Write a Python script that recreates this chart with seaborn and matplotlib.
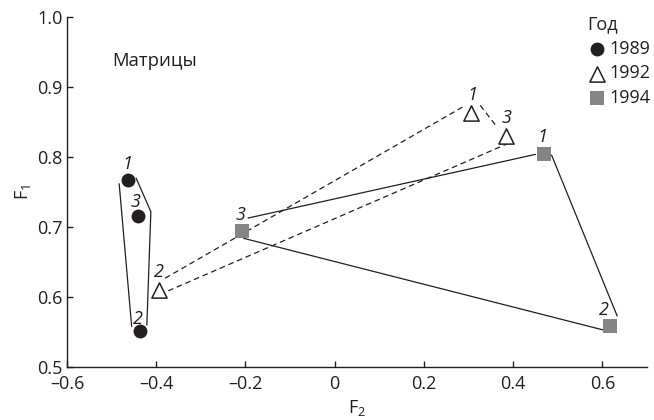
import matplotlib
matplotlib.use("Agg")
import matplotlib.pyplot as plt
import seaborn as sns
import pandas as pd

# данные: координаты матриц по годам (F2, F1)
years = ["1989", "1992", "1994"]
point_ids = {
    "1989": ["1", "3", "2"],
    "1992": ["1", "3", "2"],
    "1994": ["1", "3", "2"],
}
f2_values = {
    "1989": [-0.464, -0.440, -0.436],
    "1992": [0.306, 0.383, -0.394],
    "1994": [0.468, -0.208, 0.618],
}
f1_values = {
    "1989": [0.768, 0.716, 0.551],
    "1992": [0.863, 0.830, 0.610],
    "1994": [0.804, 0.695, 0.559],
}

# контуры групп (отрезки, в единицах осей)
outline_f2 = {
    "1989": [[-0.483, -0.455], [-0.445, -0.412, -0.421]],
    "1992": [[-0.380, 0.293], [0.326, 0.364], [0.390, -0.373]],
    "1994": [[-0.194, 0.450], [0.486, 0.633], [0.602, -0.204]],
}
outline_f1 = {
    "1989": [[0.762, 0.558], [0.770, 0.722, 0.560]],
    "1992": [[0.627, 0.874], [0.874, 0.843], [0.820, 0.609]],
    "1994": [[0.713, 0.804], [0.803, 0.573], [0.553, 0.684]],
}

dark = "#231f20"
grey = "#858585"

sns.set_style("ticks")
plt.rcParams["font.family"] = ["Open Sans", "DejaVu Sans"]
plt.rcParams["mathtext.default"] = "regular"

fig = plt.figure(figsize=(6.54, 4.20), dpi=100)
ax = fig.add_axes([0.1024, 0.126, 0.887, 0.833])

line_styles = {"1989": "-", "1992": (0, (4.5, 3)), "1994": "-"}
for year in years:
    for xs, ys in zip(outline_f2[year], outline_f1[year]):
        ax.plot(xs, ys, color=dark, lw=0.9, linestyle=line_styles[year], zorder=1)

marker_opts = {
    "1989": dict(marker="o", s=100, color=dark, edgecolor=dark, linewidth=0),
    "1992": dict(marker="^", s=120, color="white", edgecolor=dark, linewidth=1.1),
    "1994": dict(marker="s", s=90, color=grey, edgecolor=grey, linewidth=0),
}
for year in years:
    df = pd.DataFrame({"F2": f2_values[year], "F1": f1_values[year]})
    sns.scatterplot(data=df, x="F2", y="F1", ax=ax, label=year, zorder=3,
                    **marker_opts[year])

# подписи точек (смещения в пунктах)
label_offsets = {
    "1989": [(0, 11.5), (-2, 10), (-1.5, 9)],
    "1992": [(0.5, 13), (0.5, 13), (0, 13)],
    "1994": [(-1, 12.5), (-1, 11.5), (-5, 11.5)],
}
for year in years:
    for pid, xv, yv, off in zip(point_ids[year], f2_values[year], f1_values[year],
                                label_offsets[year]):
        ax.annotate(pid, (xv, yv), xytext=off, textcoords="offset points",
                    ha="center", va="center", fontsize=13, style="italic",
                    color=dark)

ax.text(-0.499, 0.937, "Матрицы", fontsize=13.3, color=dark, ha="left", va="center")

ax.set_xlim(-0.6, 0.7)
ax.set_ylim(0.5, 1.0)
ax.set_xticks([-0.6, -0.4, -0.2, 0, 0.2, 0.4, 0.6])
ax.set_xticklabels(["\u20130.6", "\u20130.4", "\u20130.2", "0", "0.2", "0.4", "0.6"])
ax.set_yticks([0.5, 0.6, 0.7, 0.8, 0.9, 1.0])
ax.set_yticklabels(["0.5", "0.6", "0.7", "0.8", "0.9", "1.0"])
ax.tick_params(direction="in", length=4, width=1, labelsize=13, colors=dark,
               pad=3)
ax.tick_params(axis="x", pad=6)
for side in ["top", "right"]:
    ax.spines[side].set_visible(False)
for side in ["left", "bottom"]:
    ax.spines[side].set_color(dark)
    ax.spines[side].set_linewidth(1)

ax.set_xlabel("F$_2$", fontsize=13, color=dark, labelpad=3)
ax.set_ylabel("F$_1$", fontsize=13, color=dark, labelpad=3)

leg = ax.legend(title="Год", loc="upper left", bbox_to_anchor=(0.885, 1.025),
                frameon=False, fontsize=13, title_fontsize=13,
                handletextpad=0.2, labelspacing=0.35, borderaxespad=0,
                handlelength=1.0, alignment="left")
for t in leg.get_texts():
    t.set_color(dark)
leg.get_title().set_color(dark)

fig.savefig("out.png", dpi=100)
